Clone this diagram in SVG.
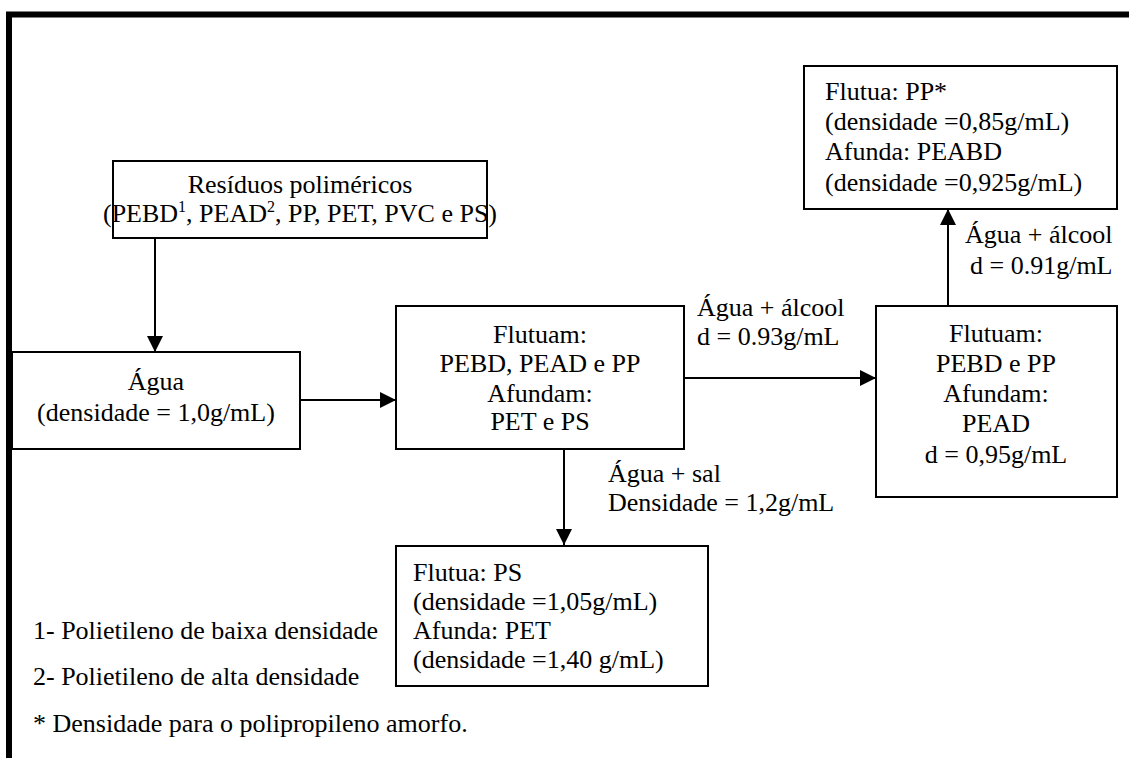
<svg xmlns="http://www.w3.org/2000/svg" width="1129" height="758" viewBox="0 0 1129 758">
<defs>
<style>
.box{fill:#fff;stroke:#000;stroke-width:2}
.t{font-family:'Liberation Serif',Tinos,'Times New Roman',Times,'DejaVu Serif',serif;font-size:26px;fill:#000}
.c{text-anchor:middle}
.edge{stroke:#000;stroke-width:2;fill:none;marker-end:url(#ah)}
</style>
<marker id="ah" markerUnits="userSpaceOnUse" markerWidth="16" markerHeight="16" refX="16" refY="8" orient="auto">
<path d="M0,0 L16,8 L0,16 z" fill="#000"/>
</marker>
</defs>
<rect width="1129" height="758" fill="#fff"/>
<g id="frame">
<path d="M9,758 V14.5 H1129" fill="none" stroke="#000" stroke-width="6"/>
</g>
<g id="connectors" font-family="'Liberation Serif', 'Times New Roman', serif">
<line class="edge" x1="155" y1="238" x2="155" y2="352"/>
<line class="edge" x1="300" y1="400" x2="396" y2="400"/>
<line class="edge" x1="684" y1="378" x2="876" y2="378"/>
<line class="edge" x1="948" y1="306" x2="948" y2="209"/>
<line class="edge" x1="564" y1="449" x2="564" y2="545"/>
<text class="t" x="697" y="316">Água + álcool</text>
<text class="t" x="697" y="345">d = 0.93g/mL</text>
<text class="t" x="965" y="243">Água + álcool</text>
<text class="t" x="970" y="274">d = 0.91g/mL</text>
<text class="t" x="608" y="482">Água + sal</text>
<text class="t" x="608" y="511">Densidade = 1,2g/mL</text>
</g>
<g id="residuos">
<rect class="box" x="113" y="161" width="374" height="77"/>
<text class="t c" x="300" y="193">Resíduos poliméricos</text>
<text class="t c" x="300" y="222">(PEBD<tspan font-size="16" dy="-10">1</tspan><tspan dy="10">, PEAD</tspan><tspan font-size="16" dy="-10">2</tspan><tspan dy="10">, PP, PET, PVC e PS)</tspan></text>
</g>
<g id="agua">
<rect class="box" x="12" y="352" width="288" height="97"/>
<text class="t c" x="156" y="390">Água</text>
<text class="t c" x="156" y="421">(densidade = 1,0g/mL)</text>
</g>
<g id="flutuam1">
<rect class="box" x="396" y="306" width="288" height="143"/>
<text class="t c" x="540" y="343">Flutuam:</text>
<text class="t c" x="540" y="372">PEBD, PEAD e PP</text>
<text class="t c" x="540" y="402">Afundam:</text>
<text class="t c" x="540" y="430">PET e PS</text>
</g>
<g id="flutuam2">
<rect class="box" x="876" y="306" width="241" height="191"/>
<text class="t c" x="996" y="342">Flutuam:</text>
<text class="t c" x="996" y="372">PEBD e PP</text>
<text class="t c" x="996" y="402">Afundam:</text>
<text class="t c" x="996" y="432">PEAD</text>
<text class="t c" x="996" y="463">d = 0,95g/mL</text>
</g>
<g id="topo">
<rect class="box" x="804" y="66" width="313" height="143"/>
<text class="t" x="825" y="100">Flutua: PP*</text>
<text class="t" x="825" y="130">(densidade =0,85g/mL)</text>
<text class="t" x="825" y="160">Afunda: PEABD</text>
<text class="t" x="825" y="191">(densidade =0,925g/mL)</text>
</g>
<g id="ps">
<rect class="box" x="396" y="546" width="312" height="140"/>
<text class="t" x="413" y="581">Flutua: PS</text>
<text class="t" x="413" y="610">(densidade =1,05g/mL)</text>
<text class="t" x="413" y="639">Afunda: PET</text>
<text class="t" x="413" y="668">(densidade =1,40 g/mL)</text>
</g>
<g id="notas">
<text class="t" x="33" y="639">1- Polietileno de baixa densidade</text>
<text class="t" x="33" y="685">2- Polietileno de alta densidade</text>
<text class="t" x="33" y="732">* Densidade para o polipropileno amorfo.</text>
</g>
</svg>
